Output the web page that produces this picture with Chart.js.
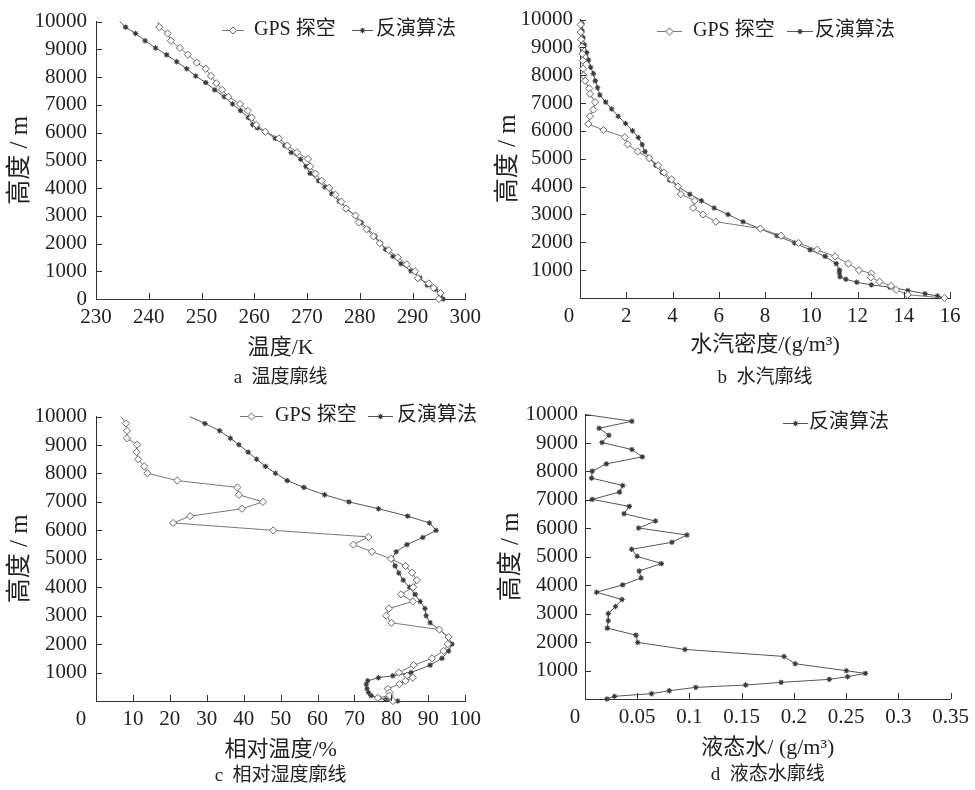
<!DOCTYPE html>
<html><head><meta charset="utf-8">
<script src="https://cdn.jsdelivr.net/npm/chart.js@4.4.1/dist/chart.umd.min.js"></script>
<style>
html,body{margin:0;padding:0;background:#fff;}
.p{position:absolute;}
</style></head>
<body>
<div class="p" style="left:0;top:0"><canvas id="ca" width="487" height="395"></canvas></div>
<div class="p" style="left:487px;top:0"><canvas id="cb" width="488" height="395"></canvas></div>
<div class="p" style="left:0;top:395px"><canvas id="cc" width="487" height="395"></canvas></div>
<div class="p" style="left:487px;top:395px"><canvas id="cd" width="488" height="395"></canvas></div>
<script>
// ---- Panel a: temperature profile ----
const A_GPS_H = [10000,9800,9570,9310,9050,8810,8520,8300,8040,7780,7540,7290,7030,6780,6540,6280,6030,5790,5530,5290,5050,4780,4520,4260,4010,3760,3510,3260,3010,2760,2510,2260,2010,1760,1500,1250,1000,750,560,400,210,0];
const A_GPS_T = [241.7,242.0,243.6,244.2,245.9,247.4,249.1,250.8,251.8,252.8,253.9,255.1,257.3,258.8,259.5,260.4,262.1,264.7,266.3,268.1,270.2,270.6,271.6,272.8,274.2,275.4,276.5,277.4,279.2,279.8,281.3,282.6,283.8,285.5,287.2,288.9,290.5,291.0,293.1,294.0,295.3,295.0];
const A_INV_H = [10000,9800,9570,9310,9050,8800,8550,8300,8040,7800,7540,7290,7030,6790,6540,6280,6170,6030,5790,5530,5280,5040,4780,4530,4260,4040,3790,3520,3260,2990,2760,2510,2260,2020,1790,1530,1270,1010,760,500,350,150,0];
const A_INV_T = [234.5,235.6,237.5,239.3,241.3,243.4,245.3,247.2,248.9,250.8,252.5,254.3,255.9,257.4,258.9,259.7,260.6,262.1,264.0,265.8,267.0,268.8,269.8,270.6,272.2,273.4,274.7,276.1,277.5,279.2,280.3,281.6,282.9,283.9,284.9,286.3,287.8,289.7,291.4,292.8,294.4,295.3,295.8];

// ---- Panel b: water vapour density ----
const B_GPS_H = [9820,9550,9290,9030,8770,8530,8240,8000,7800,7530,7330,7035,6765,6530,6250,6035,5776,5518,5259,5024,4765,4506,4259,4000,3729,3494,3235,3000,2741,2494,2235,1976,1729,1494,1235,1000,882,741,588,435,294,118,0];
const B_GPS_V = [0.03,0.03,0.05,0.08,0.1,0.12,0.14,0.15,0.22,0.40,0.43,0.65,0.58,0.43,0.36,1.01,1.94,2.06,2.49,2.99,3.38,3.64,3.96,4.24,4.36,4.96,4.89,5.32,5.87,7.8,8.7,9.45,10.25,11.03,11.6,12.06,12.6,12.58,12.95,13.45,13.67,14.17,15.76];
const B_INV_H = [9850,9590,9350,9090,8820,8550,8290,8060,7800,7550,7290,7035,6790,6530,6270,6010,5765,5506,5259,5024,4765,4506,4235,4000,3729,3494,3235,3000,2741,2494,2235,1976,1729,1494,1235,1000,900,765,671,565,471,388,271,153,71,0];
const B_INV_V = [0.09,0.1,0.14,0.2,0.29,0.37,0.46,0.58,0.66,0.76,0.86,1.11,1.37,1.65,1.97,2.27,2.52,2.69,2.81,2.99,3.28,3.55,3.88,4.24,4.75,5.25,5.8,6.4,7.05,7.77,8.52,9.28,9.95,10.6,11.08,11.22,11.22,11.24,11.5,11.97,12.6,13.4,14.18,14.92,15.46,15.78];

// ---- Panel c: relative humidity ----
const C_GPS_H = [10000,9760,9500,9240,9010,8750,8500,8250,8010,7750,7510,7250,7000,6760,6500,6260,6000,5770,5500,5250,5000,4750,4510,4250,4000,3750,3500,3250,3000,2750,2510,2250,2000,1760,1500,1260,1000,890,820,710,590,430,300,190,110,0];
const C_GPS_RH = [6.8,8.1,8.4,8.4,11.1,11.0,11.4,13.1,13.9,22.0,38.3,38.7,45.2,39.5,25.5,20.9,48.0,73.8,69.7,74.7,79.9,83.8,85.6,86.9,85.9,82.6,85.8,79.3,78.6,80.0,93.0,95.5,95.3,94.1,91.0,86.0,82.0,84.2,85.8,83.8,82.2,79.0,79.5,79.5,76.3,80.4];
const C_INV_H = [10000,9760,9500,9240,9010,8750,8500,8250,8010,7750,7510,7250,7000,6760,6500,6260,6000,5750,5500,5250,5000,4750,4500,4250,4000,3750,3500,3250,3000,2750,2510,2250,2000,1760,1500,1260,1000,890,820,710,590,430,300,190,110,50,0];
const C_INV_RH = [25.4,29.5,33.5,36.4,38.7,41.2,43.5,45.9,48.6,51.8,56.3,61.9,68.5,76.5,84.4,90.3,92.1,88.5,84.2,81.3,80.1,81.0,82.0,83.2,84.9,86.4,87.8,89.1,89.4,90.5,93.0,95.3,96.4,95.5,93.7,90.5,85.3,80.4,76.5,73.6,73.2,73.4,73.8,74.5,76.5,78.5,81.7];

// ---- Panel d: liquid water ----
const D_INV_H = [10000,9766,9520,9275,9018,8772,8515,8269,8012,7766,7509,7275,7018,6772,6515,6257,6012,5766,5509,5263,5018,4760,4503,4257,4012,3754,3497,3251,3006,2749,2491,2246,1988,1743,1497,1240,994,901,784,690,585,491,409,292,187,94,0];
const D_INV_LW = [0.001,0.0449,0.0135,0.0229,0.0163,0.0449,0.0549,0.0204,0.0069,0.0063,0.0361,0.033,0.0069,0.0424,0.0373,0.0675,0.0512,0.0976,0.0832,0.0446,0.0499,0.0731,0.0518,0.0537,0.0361,0.011,0.0355,0.0292,0.0223,0.0223,0.0213,0.0487,0.0505,0.0957,0.1905,0.2012,0.2502,0.2684,0.2514,0.2338,0.1877,0.1538,0.1061,0.0807,0.0637,0.0282,0.021];

const SERIES_GPS = 'GPS 探空';
const SERIES_INV = '反演算法';
const Y_TITLE = '高度 / m';

const SERIF = '"Liberation Serif","Noto Sans CJK SC",serif';
const TXT = '#222';
const AX = '#333';
const TICK_SIZE = 21;

function pts(xs, ys){ return xs.map((v,i)=>({x:v, y:ys[i]})); }

function gpsSet(xs, ys, hideFirst){
  return {label:SERIES_GPS, data:pts(xs,ys), showLine:true, borderColor:'#777', borderWidth:1,
    pointStyle:'rectRot', pointRadius:(c)=> (hideFirst && c.dataIndex===0)?0:3.6,
    pointBackgroundColor:'#fff', pointBorderColor:'#666', pointBorderWidth:1, clip:false};
}
function invSet(xs, ys, hideFirst){
  return {label:SERIES_INV, data:pts(xs,ys), showLine:true, borderColor:'#555', borderWidth:1,
    pointStyle:'star', pointRadius:(c)=> (hideFirst && c.dataIndex===0)?0:2.7,
    pointBackgroundColor:'#333', pointBorderColor:'#3a3a3a', pointBorderWidth:1.1, clip:false};
}

const innerTicks = {
  id:'innerTicks',
  afterDraw(chart){
    const {ctx, chartArea:a, scales:{x,y}} = chart;
    ctx.save(); ctx.strokeStyle=AX; ctx.lineWidth=1;
    x.ticks.forEach(t=>{const px=Math.round(x.getPixelForValue(t.value))+0.5;
      ctx.beginPath(); ctx.moveTo(px,a.bottom); ctx.lineTo(px,a.bottom-6); ctx.stroke();});
    y.ticks.forEach(t=>{const py=Math.round(y.getPixelForValue(t.value))+0.5;
      ctx.beginPath(); ctx.moveTo(a.left,py); ctx.lineTo(a.left+6,py); ctx.stroke();});
    ctx.restore();
  }
};

// legend (line sample + marker + label), shifted origin label and panel caption
const panelText = {
  id:'panelText',
  afterDraw(chart, args, opts){
    const ctx = chart.ctx;
    const a = chart.chartArea;
    const xs = chart.scales.x;
    ctx.save();
    ctx.font = '20px ' + SERIF;
    ctx.textBaseline = 'middle';
    opts.items.forEach(it=>{
      const ds = chart.data.datasets[it.ds];
      const y = opts.y;
      ctx.strokeStyle = ds.borderColor; ctx.lineWidth = 1;
      ctx.beginPath(); ctx.moveTo(it.l0, y+0.5); ctx.lineTo(it.l1, y+0.5); ctx.stroke();
      const cx = (it.l0+it.l1)/2;
      ctx.fillStyle = ds.pointBackgroundColor; ctx.strokeStyle = ds.pointBorderColor; ctx.lineWidth = ds.pointBorderWidth;
      Chart.helpers.drawPoint(ctx, {pointStyle:ds.pointStyle, radius: ds.pointStyle==='rectRot'?3.6:2.7, borderWidth:ds.pointBorderWidth}, cx, y+0.5);
      ctx.fillStyle = TXT;
      ctx.textAlign = 'left';
      ctx.fillText(ds.label, it.t, y);
    });
    if (opts.zeroShift) {
      ctx.font = TICK_SIZE + 'px ' + SERIF;
      ctx.textAlign = 'center';
      ctx.fillText(String(xs.min), xs.getPixelForValue(xs.min) - opts.zeroShift, a.bottom + 6 + TICK_SIZE*0.6);
    }
    ctx.font = '19px ' + SERIF;
    ctx.textAlign = 'center';
    ctx.fillStyle = TXT;
    ctx.fillText(opts.caption, (a.left + a.right)/2, opts.capY);
    ctx.restore();
  }
};

function makeChart(id, cfg){
  const ySc = {
    type:'linear', min:0, max:10000,
    afterFit: s=>{ s.width = cfg.yW; },
    border:{display:true, color:AX, width:1},
    grid:{display:true, drawOnChartArea:false, drawTicks:false},
    ticks:{stepSize:1000, autoSkip:false, padding:cfg.yPad, color:TXT, font:{family:SERIF, size:TICK_SIZE},
      callback:(v)=> (cfg.hideY0 && v===0) ? '' : v},
    title:{display:true, text:Y_TITLE, color:TXT, font:{family:SERIF, size:25}, padding:{top:cfg.yTitlePad, bottom:0}}
  };
  const xSc = {
    type:'linear', min:cfg.xMin, max:cfg.xMax,
    afterFit: s=>{ s.height = cfg.xH; },
    border:{display:true, color:AX, width:1},
    grid:{display:true, drawOnChartArea:false, drawTicks:false},
    ticks:{stepSize:cfg.xStep, padding:6, color:TXT, font:{family:SERIF, size:TICK_SIZE}, maxRotation:0, autoSkip:false,
      callback:(v)=> (cfg.zeroShift && v===cfg.xMin) ? '' : String(Math.round(v*100)/100)},
    title:{display:true, text:cfg.xTitle, color:TXT, font:{family:SERIF, size:22}, padding:{top:0, bottom:cfg.xTitlePad}}
  };
  return new Chart(document.getElementById(id), {
    type:'scatter',
    data:{datasets:cfg.datasets},
    options:{
      responsive:false, animation:false, devicePixelRatio:1,
      layout:{padding:{left:0, right:cfg.padR, top:cfg.padT, bottom:cfg.padB}},
      scales:{x:xSc, y:ySc},
      plugins:{
        legend:{display:false}, tooltip:{enabled:false}, title:{display:false},
        panelText:{y:cfg.legY, items:cfg.legItems, caption:cfg.caption, capY:cfg.capY, zeroShift:cfg.zeroShift}
      }
    },
    plugins:[innerTicks, panelText]
  });
}

makeChart('ca', {
  yW:96, yPad:9, yTitlePad:5, hideY0:false, zeroShift:0,
  xMin:230, xMax:300, xStep:10, xH:68, xTitle:'温度/K', xTitlePad:6,
  padR:17, padT:15, padB:28, caption:'a  温度廓线', capY:378,
  datasets:[gpsSet(A_GPS_T, A_GPS_H, true), invSet(A_INV_T, A_INV_H, true)],
  legY:30, legItems:[{ds:0,l0:222,l1:244,t:254},{ds:1,l0:352,l1:373,t:376}]
});
makeChart('cb', {
  yW:93, yPad:7, yTitlePad:6, hideY0:true, zeroShift:11,
  xMin:0, xMax:16, xStep:2, xH:69, xTitle:'水汽密度/(g/m³)', xTitlePad:9,
  padR:25, padT:15, padB:28, caption:'b  水汽廓线', capY:378,
  datasets:[gpsSet(B_GPS_V, B_GPS_H, false), invSet(B_INV_V, B_INV_H, false)],
  legY:31, legItems:[{ds:0,l0:170,l1:195,t:206},{ds:1,l0:300,l1:326,t:328}]
});
makeChart('cc', {
  yW:96, yPad:9, yTitlePad:5, hideY0:true, zeroShift:15,
  xMin:0, xMax:100, xStep:10, xH:64, xTitle:'相对温度/%', xTitlePad:2,
  padR:20, padT:20, padB:25, caption:'c  相对湿度廓线', capY:381,
  datasets:[gpsSet(C_GPS_RH, C_GPS_H, true), invSet(C_INV_RH, C_INV_H, true)],
  legY:21, legItems:[{ds:0,l0:240,l1:263,t:275},{ds:1,l0:368,l1:393,t:397}]
});
makeChart('cd', {
  yW:98, yPad:7, yTitlePad:9, hideY0:true, zeroShift:10,
  xMin:0, xMax:0.35, xStep:0.05, xH:65, xTitle:'液态水/ (g/m³)', xTitlePad:3,
  padR:18, padT:19, padB:26, caption:'d  液态水廓线', capY:380,
  datasets:[invSet(D_INV_LW, D_INV_H, true)],
  legY:28, legItems:[{ds:0,l0:296,l1:321,t:322}]
});
</script>
</body></html>
